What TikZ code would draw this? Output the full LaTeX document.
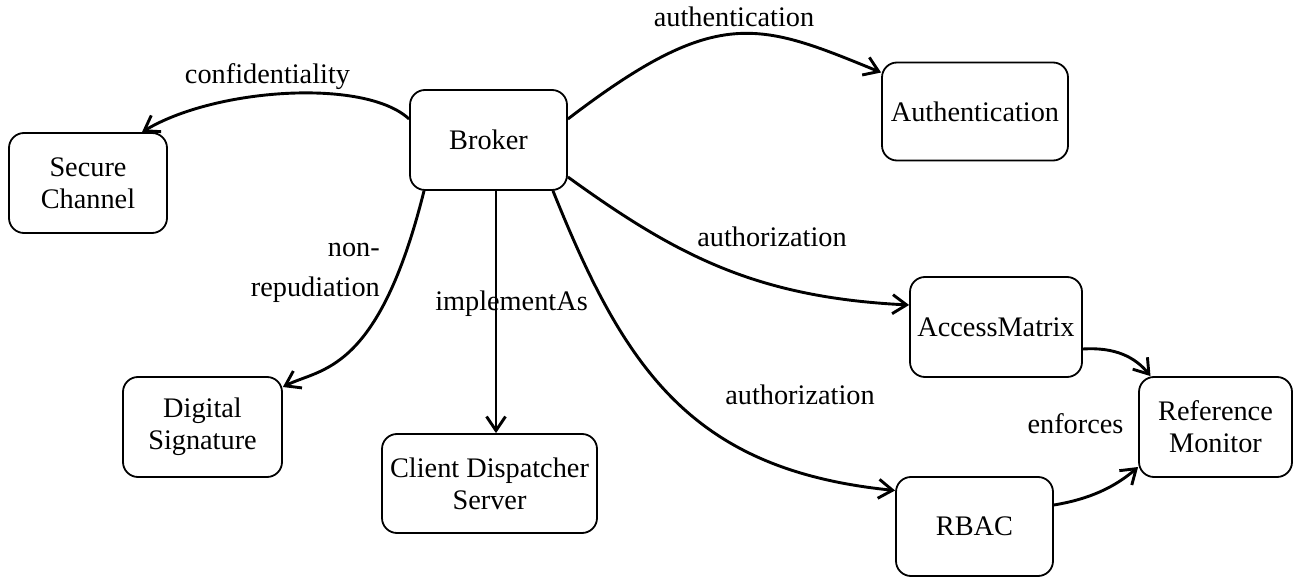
\documentclass[tikz,border=0pt]{standalone}
\usepackage{fontspec}
\setmainfont{Liberation Serif}
\usetikzlibrary{arrows.meta}
\newcommand\dfont{\fontsize{28.3}{32}\selectfont}
\begin{document}
\begin{tikzpicture}[x=1pt,y=-1pt,
  box/.style={draw, line width=1.8pt, rounded corners=15pt, align=center, inner sep=0pt, font=\dfont, minimum height=100pt},
  arr/.style={line width=2.9pt, -{Straight Barb[length=14pt,width=19pt]}},
  lbl/.style={font=\dfont, anchor=base, inner sep=0pt}]
\useasboundingbox (0,0) rectangle (1294,577);
% nodes
\node[box, minimum width=157pt] (broker) at (488.5,140) {Broker};
\node[box, minimum width=158pt] (secure) at (88,183) {Secure\\Channel};
\node[box, minimum width=186pt, minimum height=98pt] (auth) at (975,111.5) {Authentication};
\node[box, minimum width=172pt] (access) at (996,327) {AccessMatrix};
\node[box, minimum width=153pt] (refmon) at (1215.5,427) {Reference\\Monitor};
\node[box, minimum width=157pt, minimum height=99pt] (rbac) at (974.5,526.5) {RBAC};
\node[box, minimum width=159pt] (digsig) at (202.5,427) {Digital\\Signature};
\node[box, minimum width=215pt, minimum height=99pt] (client) at (489.5,483.5) {Client Dispatcher\\Server};
% connectors
\draw[arr] ([yshift=21pt]broker.west) .. controls (365,78) and (215,88) .. ([xshift=54pt]secure.north);
\draw[arr] ([yshift=21pt]broker.east) .. controls (717,5) and (758,22) .. ([yshift=39pt]auth.west);
\draw[arr] ([yshift=-37pt]broker.east) .. controls (677,256) and (757,297.5) .. ([yshift=22pt]access.west);
\draw[arr] ([xshift=64.5pt]broker.south) .. controls (625,370) and (692,470) .. ([yshift=36pt]rbac.west);
\draw[arr] ([xshift=7.5pt]broker.south) -- ([xshift=6.5pt]client.north);
\draw[arr] ([xshift=-64.5pt]broker.south) .. controls (378,375) and (320,368) .. ([yshift=40pt]digsig.east);
\draw[arr] ([yshift=-22pt]access.east) .. controls (1115,347) and (1135,357) .. ([xshift=-65pt]refmon.north);
\draw[arr] ([yshift=21.5pt]rbac.east) .. controls (1090,499) and (1115,487) .. ([yshift=-40pt]refmon.west);
% labels
\node[lbl] (lconf) at (267.5,84) {confidentiality};
\node[lbl] (lauthn) at (734,27) {authentication};
\node[lbl] (lauthz1) at (772,247) {authorization};
\node[lbl] (lauthz2) at (800,405) {authorization};
\node[lbl] (limpl) at (511.5,311) {implementAs};
\node[lbl, anchor=south east, align=right] (lnonrep) at (380,303) {non-\\[8pt]repudiation};
\node[lbl] (lenf) at (1075.5,433) {enforces};
\end{tikzpicture}
\end{document}
